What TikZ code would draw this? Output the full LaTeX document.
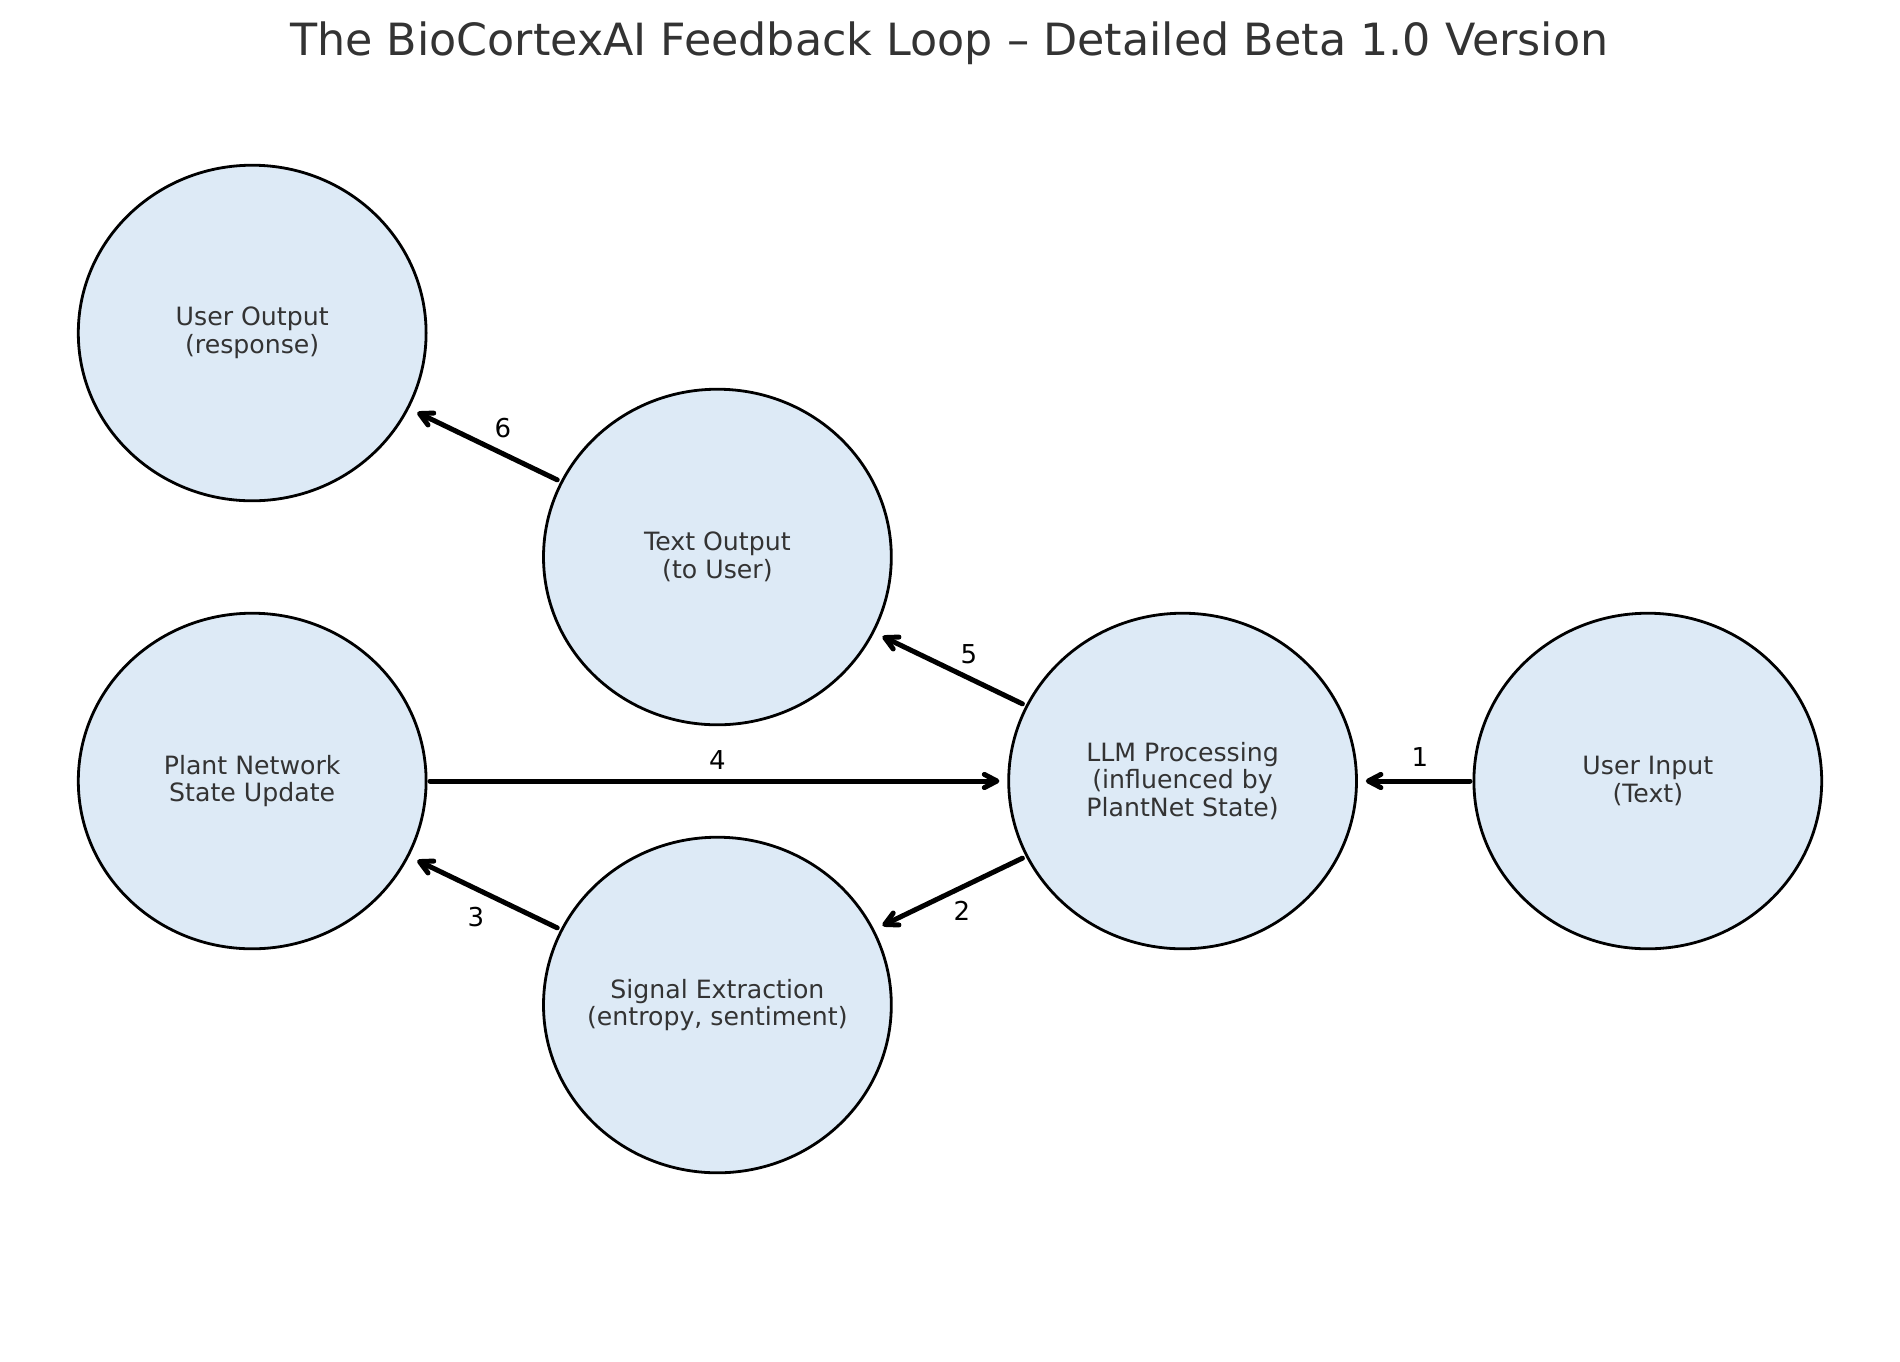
\documentclass[tikz,border=0pt]{standalone}
\usepackage{fontspec}
\setmainfont{DejaVu Sans}
\usetikzlibrary{shapes.geometric,arrows.meta,calc}
\definecolor{nodefill}{RGB}{221,234,246}
\definecolor{txtgray}{RGB}{51,51,51}
\begin{document}
\begin{tikzpicture}[x=0.5pt,y=-0.5pt,
  stage/.style={ellipse, draw=black, line width=1.4pt, fill=nodefill,
    minimum width=173.9pt, minimum height=167.8pt, inner xsep=-40pt, inner ysep=0pt,
    align=center, text=txtgray, font=\fontsize{12.6}{13.9}\selectfont},
  flow/.style={line width=2.5pt, line cap=round,
    -{Straight Barb[length=6.3pt,width=6.6pt,line join=round,line cap=round]},
    shorten <=88.9pt, shorten >=91.6pt},
  num/.style={font=\fontsize{13}{15}\selectfont, text=black, inner sep=0pt}]
\useasboundingbox (0,0) rectangle (1900,1361);
\node[font=\fontsize{22.2}{27}\selectfont, text=txtgray, anchor=base, inner sep=0pt] (title) at (949.2,55)
  {The BioCortexAI Feedback Loop – Detailed Beta 1.0 Version};
\node[stage] (uout) at (252.2,333) {User Output\\(response)};
\node[stage] (tout) at (717.4,557) {Text Output\\(to User)};
\node[stage] (plant) at (252.2,781) {Plant Network\\State Update};
\node[stage] (sig) at (717.4,1005) {Signal Extraction\\(entropy, sentiment)};
\node[stage] (llm) at (1182.6,781) {LLM Processing\\(influenced by\\PlantNet State)};
\node[stage] (uin) at (1647.8,781) {User Input\\(Text)};
\draw[flow] (uin.center) -- (llm.center);
\draw[flow] (llm.center) -- (sig.center);
\draw[flow] (sig.center) -- (plant.center);
\draw[flow] (plant.center) -- (llm.center);
\draw[flow] (llm.center) -- (tout.center);
\draw[flow] (tout.center) -- (uout.center);
\node[num] (n1) at ($(uin)!0.5!(llm)+(4.8,-24)$) {1};
\node[num] (n2) at ($(llm)!0.5!(sig)+(12,18)$) {2};
\node[num] (n3) at ($(sig)!0.5!(plant)+(-8.8,24)$) {3};
\node[num] (n4) at ($(plant)!0.5!(llm)+(0,-21.2)$) {4};
\node[num] (n5) at ($(llm)!0.5!(tout)+(19,-15)$) {5};
\node[num] (n6) at ($(tout)!0.5!(uout)+(18.2,-17)$) {6};
\end{tikzpicture}
\end{document}
